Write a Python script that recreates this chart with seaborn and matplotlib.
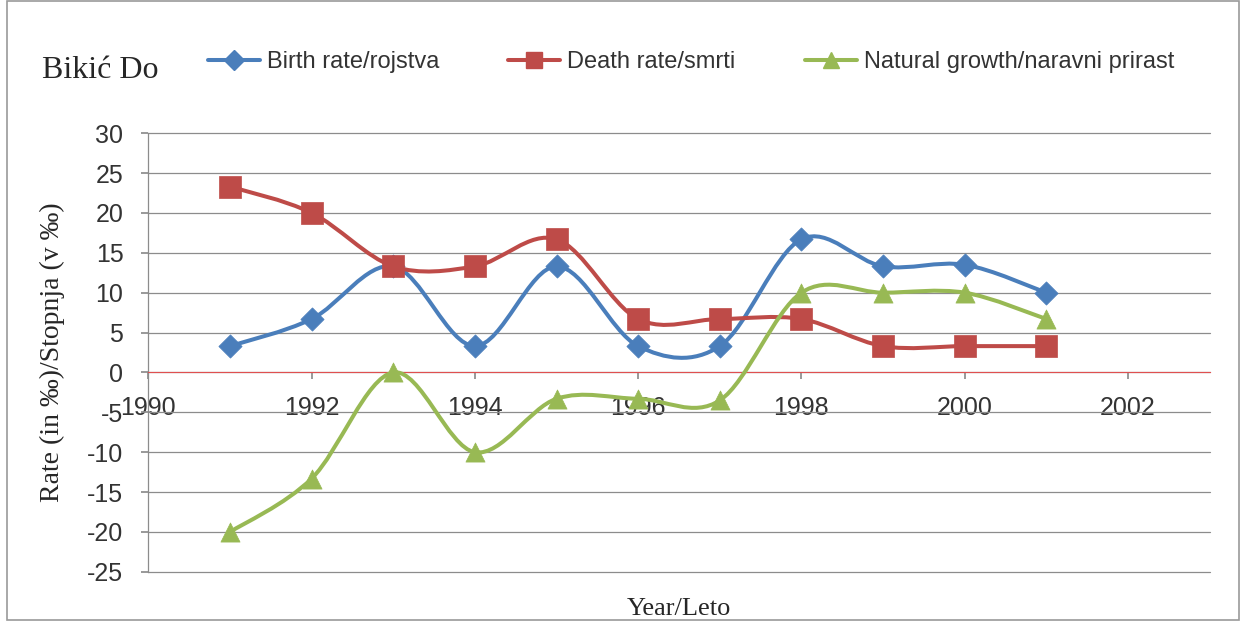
import numpy as np
import pandas as pd
import matplotlib
matplotlib.use('Agg')
import matplotlib.pyplot as plt
import seaborn as sns
from matplotlib.path import Path
from matplotlib.patches import PathPatch, Rectangle
from matplotlib.lines import Line2D

# data (per mille)
years = [1991, 1992, 1993, 1994, 1995, 1996, 1997, 1998, 1999, 2000, 2001]
birth = [3.3, 6.7, 13.3, 3.3, 13.3, 3.3, 3.3, 16.7, 13.3, 13.5, 10.0]
death = [23.3, 20.0, 13.3, 13.3, 16.7, 6.7, 6.7, 6.7, 3.3, 3.3, 3.3]
growth = [-20.0, -13.3, 0.0, -10.0, -3.3, -3.3, -3.5, 10.0, 10.0, 10.0, 6.7]

labels = ["Birth rate/rojstva", "Death rate/smrti", "Natural growth/naravni prirast"]
colors = ["#4A7EBB", "#BE4B48", "#98B954"]
markers = ["D", "s", "^"]
msizes = [140, 230, 190]

df = pd.DataFrame({"year": years, labels[0]: birth, labels[1]: death, labels[2]: growth})
long_df = df.melt(id_vars="year", var_name="series", value_name="rate")

sns.set_theme(style="white")
plt.rcParams['font.family'] = ['Liberation Sans', 'DejaVu Sans']
plt.rcParams['axes.unicode_minus'] = False


def smooth_path(x, y):
    # Excel-style smoothed line: cubic Bezier through every point
    pts = np.column_stack([x, y]).astype(float)
    n = len(pts)
    verts = [pts[0]]
    codes = [Path.MOVETO]
    for i in range(n - 1):
        p0 = pts[max(i - 1, 0)]
        p1 = pts[i]
        p2 = pts[i + 1]
        p3 = pts[min(i + 2, n - 1)]
        verts += [p1 + (p2 - p0) / 6, p2 - (p3 - p1) / 6, p2]
        codes += [Path.CURVE4] * 3
    return Path(verts, codes)


fig, ax = plt.subplots(figsize=(12.47, 6.25), dpi=100)
fig.subplots_adjust(left=0.119, right=0.970, top=0.787, bottom=0.085)

for lab, col, mk, ms in zip(labels, colors, markers, msizes):
    sub = long_df[long_df["series"] == lab]
    ax.add_patch(PathPatch(smooth_path(sub["year"], sub["rate"]), facecolor='none',
                           edgecolor=col, lw=2.9, zorder=3))
    sns.scatterplot(x=sub["year"], y=sub["rate"], marker=mk, s=ms, color=col,
                    edgecolor=col, linewidth=0.5, ax=ax, zorder=4, legend=False)

ax.set_xlim(1990, 2003)
ax.set_ylim(-25, 30)
ax.set_xticks(range(1990, 2003, 2))
ax.set_yticks(range(-25, 31, 5))
ax.yaxis.grid(True, color='#8c8c8c', lw=0.9)
ax.xaxis.grid(False)
ax.set_axisbelow(True)
for gl in ax.get_ygridlines():
    gl.set_clip_on(False)

for s in ['top', 'right']:
    ax.spines[s].set_visible(False)
ax.spines['left'].set_color('#8c8c8c')
ax.spines['left'].set_linewidth(0.9)
ax.spines['bottom'].set_position(('data', 0))
ax.spines['bottom'].set_color('#e05050')
ax.spines['bottom'].set_linewidth(0.8)

ax.tick_params(axis='x', direction='out', length=5, color='#8c8c8c', pad=12,
               labelsize=18, labelcolor='#333333', bottom=True)
ax.tick_params(axis='y', direction='out', length=5, color='#8c8c8c', pad=13,
               labelsize=18, labelcolor='#333333', left=True)

ax.set_xlabel("Year/Leto", family='Liberation Serif', fontsize=19, color='#262626')
ax.xaxis.set_label_coords(0.5, -0.06)
ax.set_ylabel("Rate (in ‰)/Stopnja (v ‰)", family='Liberation Serif', fontsize=20,
              color='#262626')
ax.yaxis.set_label_coords(-0.079, 0.5)

# one legend entry per slot, placed where the reference puts them
legend_x = [208, 508, 805]
for c, m, lab, lx in zip(colors, markers, labels, legend_x):
    h = Line2D([0], [0], color=c, lw=2.9, marker=m, markersize=10 if m == 'D' else 12,
               markerfacecolor=c, markeredgecolor=c)
    fig.legend([h], [lab], loc='center left', bbox_to_anchor=(lx / 1247, 1 - 62 / 625),
               frameon=False, fontsize=17, handlelength=2.2, handletextpad=0.3,
               borderaxespad=0, borderpad=0, labelcolor='#333333')

fig.text(42 / 1247, 1 - 70 / 625, "Bikić Do", family='Liberation Serif', fontsize=23,
         va='center', color='#262626')

fig.patches.append(Rectangle((7 / 1247, 5 / 625), 1232 / 1247, 619 / 625,
                             transform=fig.transFigure, fill=False,
                             edgecolor='#9a9a9a', lw=1.2))

fig.savefig("out.png", dpi=100)
